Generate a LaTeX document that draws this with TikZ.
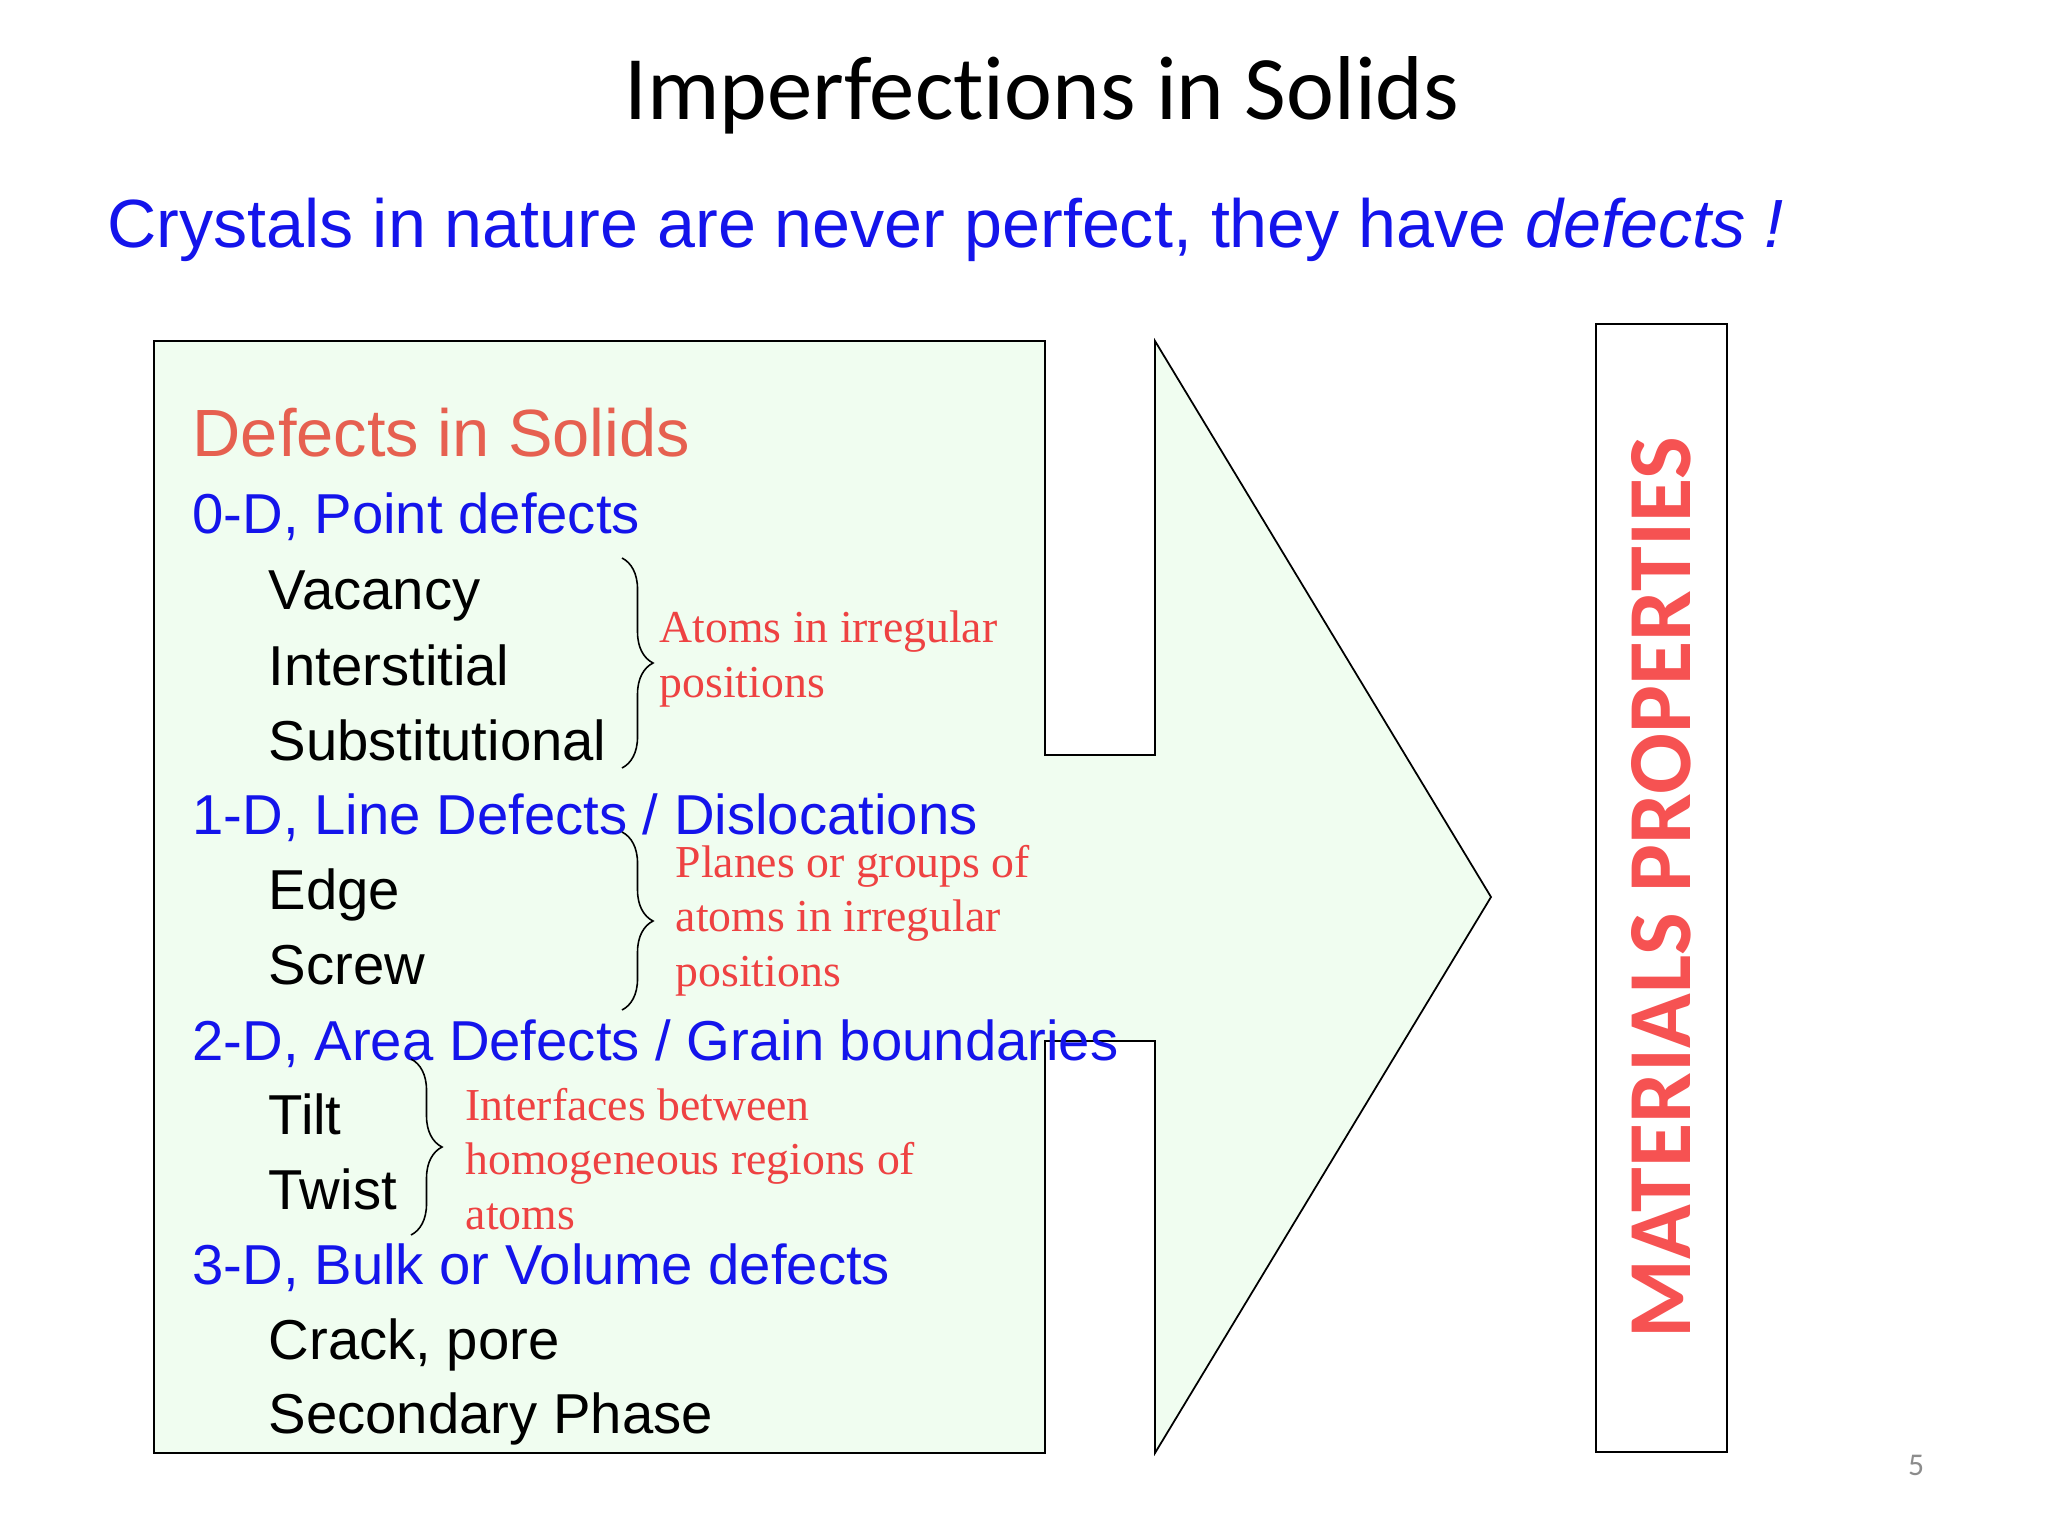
\documentclass[tikz,border=0pt]{standalone}
\usepackage{fontspec}
\setmainfont{Liberation Sans}
\newfontfamily\titlefont[Ligatures=NoCommon]{Carlito}
\newfontfamily\notefont{Liberation Serif}
\usetikzlibrary{decorations.pathreplacing}

\definecolor{boxgreen}{RGB}{240,253,240}
\definecolor{defred}{RGB}{230,96,80}
\definecolor{notered}{RGB}{238,66,66}
\definecolor{matred}{RGB}{246,82,82}
\definecolor{itemblue}{RGB}{20,20,235}
\definecolor{pagegray}{RGB}{140,140,140}

\tikzset{
	head/.style={anchor=base west, inner sep=0pt, text=defred, font=\fontsize{19}{23}\selectfont},
	dim/.style={anchor=base west, inner sep=0pt, text=itemblue, font=\fontsize{16}{19}\selectfont},
	item/.style={anchor=base west, inner sep=0pt, font=\fontsize{16}{19}\selectfont},
	note/.style={anchor=base west, inner sep=0pt, align=left, text=notered, font=\notefont\fontsize{13}{15.4}\selectfont},
	brc/.style={decorate, decoration={brace, amplitude=0.31cm}, line width=0.45pt}
}

\begin{document}
\begin{tikzpicture}[x=0.01cm, y=-0.01cm]
	\useasboundingbox (0,0) rectangle (2048,1536);
	% box and arrow outline
	\draw[fill=boxgreen, line width=0.5pt] (154,341) -- (1045,341) -- (1045,755) -- (1155,755) -- (1155,341)
		-- (1491,897) -- (1155,1453) -- (1155,1041) -- (1045,1041) -- (1045,1453) -- (154,1453) -- cycle;
	\node (title) at (1042,119) [anchor=base, inner sep=0pt, font=\titlefont\fontsize{25.8}{30}\selectfont] {Imperfections in Solids};
	\node (sub) at (107,247) [anchor=base west, inner sep=0pt, text=itemblue, font=\fontsize{19.4}{23}\selectfont] {Crystals in nature are never perfect, they have \textit{defects !}};
	\node (head) at (192,456) [head] {Defects in Solids};
	\node (d0) at (192,533) [dim] {0-D, Point defects};
	\node (vac) at (268,609) [item] {Vacancy};
	\node (inter) at (268,685) [item] {Interstitial};
	\node (subst) at (268,760) [item] {Substitutional};
	\node (d1) at (192,834) [dim] {1-D, Line Defects / Dislocations};
	\node (edge) at (268,909) [item] {Edge};
	\node (screw) at (268,984) [item] {Screw};
	\node (d2) at (192,1060) [dim] {2-D, Area Defects / Grain boundaries};
	\node (tilt) at (268,1134) [item] {Tilt};
	\node (twist) at (268,1209) [item] {Twist};
	\node (d3) at (192,1284) [dim] {3-D, Bulk or Volume defects};
	\node (crack) at (268,1359) [item] {Crack, pore};
	\node (second) at (268,1433) [item] {Secondary Phase};
	% braces
	\coordinate (b1t) at (622,558);
	\coordinate (b1b) at (622,768);
	\coordinate (b2t) at (622,832);
	\coordinate (b2b) at (622,1010);
	\coordinate (b3t) at (411,1059);
	\coordinate (b3b) at (411,1235);
	\draw[brc] (b1t) -- (b1b);
	\draw[brc] (b2t) -- (b2b);
	\draw[brc] (b3t) -- (b3b);
	% notes: base is the last line
	\node (n1) at (659,697) [note] {Atoms in irregular\\positions};
	\node (n2) at (675,986) [note] {Planes or groups of\\atoms in irregular\\positions};
	\node (n3) at (465,1229) [note] {Interfaces between\\homogeneous regions of\\atoms};
	% right box
	\node (props) at (1661.5,888) [draw, line width=0.6pt, fill=white, rotate=90, minimum width=11.28cm, minimum height=1.31cm, inner sep=0pt]
		{\textcolor{matred}{\resizebox{9.01cm}{0.59cm}{\titlefont\bfseries MATERIALS PROPERTIES}}};
	\node (page) at (1916,1465) [text=pagegray, font=\titlefont\fontsize{9}{11}\selectfont] {5};
\end{tikzpicture}
\end{document}
